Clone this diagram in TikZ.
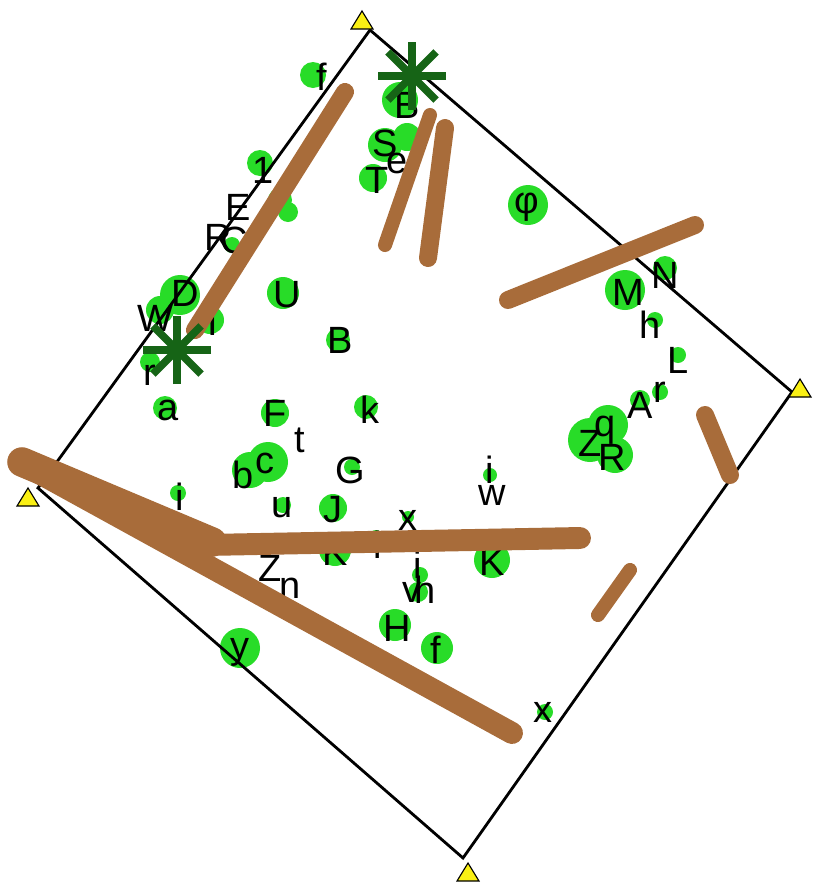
\documentclass[tikz,border=0pt]{standalone}
\usepackage{fontspec}
\setmainfont{Liberation Sans}
\usetikzlibrary{positioning}
\definecolor{leaf}{RGB}{40,220,40}
\definecolor{bark}{RGB}{168,108,58}
\definecolor{pine}{RGB}{22,100,22}
\definecolor{marker}{RGB}{250,240,20}

\begin{document}
\begin{tikzpicture}[x=0.025cm, y=-0.025cm,
    spot/.style={circle, fill=leaf, inner sep=0pt},
    tag/.style={inner sep=0pt, font=\fontsize{27}{27}\selectfont},
    log/.style={draw=bark, line cap=round},
    edge/.style={line width=2pt},
    star/.style={draw=pine, line width=5.5pt}]
    \useasboundingbox (0,0) rectangle (813,889);

    % green spots
    \foreach \x/\y/\r [count=\i] in {313/75/13, 260/163/13, 280/200/12, 288/212/10, 232/245/8,
        180/295/20, 160/310/14, 210/320/14, 150/362/10, 283/293/16, 338/340/12,
        165/408/12, 275/413/14, 366/407/12, 250/470/18, 268/462/20, 352/467/8,
        178/493/8, 283/505/8, 333/508/14, 408/517/6, 376/537/7, 335/550/16,
        420/575/8, 418/592/10, 395/625/16, 437/648/16, 240/648/20, 545/712/8,
        490/475/7, 492/560/18, 400/100/18, 385/145/17, 407/137/14, 373/178/14,
        528/205/20, 625/290/20, 665/268/12, 655/320/8, 678/355/8, 660/392/8,
        640/400/10, 590/440/22, 608/425/20, 615/455/18}
        \node (spot\i) [spot, minimum size=2*\r*0.025cm] at (\x,\y) {};

    % letters
    \foreach \x/\y/\t [count=\i] in {322/77/f, 263/170/1, 238/207/E, 218/237/R, 234/240/C,
        185/293/D, 155/318/W, 213/322/I, 150/375/r, 287/295/U, 340/340/B,
        168/410/a, 275/413/F, 300/440/t, 370/410/k, 243/475/b, 265/463/c,
        350/470/G, 180/497/i, 282/508/u, 333/510/J, 408/520/x, 378/545/i,
        335/552/K, 270/568/Z, 290/588/n, 418/565/i, 412/592/v, 425/590/h,
        397/628/H, 436/650/f, 240/652/y, 543/712/x, 490/470/i, 492/495/w,
        492/562/K, 407/105/B, 385/143/S, 397/163/e, 377/180/T, 527/207/φ,
        628/292/M, 665/275/N, 650/325/h, 678/360/L, 660/392/r, 640/405/A,
        590/443/Z, 605/430/q, 612/457/R}
        \node (tag\i) [tag] at (\x,\y) {\t};

    % square
    \coordinate (top) at (370,30);
    \coordinate (right) at (792,392);
    \coordinate (bottom) at (463,858);
    \coordinate (left) at (38,488);
    \draw [edge] (top) -- (right) -- (bottom) -- (left) -- cycle;

    % logs
    \draw [log, line width=12.8pt] (345,92) -- (195,330);
    \draw [log, line width=10pt] (430,115) -- (385,245);
    \draw [log, line width=12.8pt] (445,128) -- (428,258);
    \draw [log, line width=12.8pt] (695,225) -- (508,300);
    \draw [log, line width=12.8pt] (705,415) -- (730,475);
    \draw [log, line width=10pt] (630,570) -- (598,615);
    \draw [log, line width=21pt] (22,462) -- (212,542);
    \draw [log, line width=15.6pt] (30,468) -- (512,733);
    \draw [log, line width=15.6pt] (205,545) -- (580,538);

    % trees
    \foreach \cx/\cy in {412/76, 177/350}
        \foreach \a in {0,45,...,135}
            \draw [star] (\cx,\cy) ++(\a:34) -- ++(\a+180:68);

    % corner markers
    \foreach \x/\y in {362/20, 800/388, 468/872, 28/497}
        \draw [fill=marker, line width=0.8pt] (\x-11,\y+9) -- (\x,\y-9) -- (\x+11,\y+9) -- cycle;
\end{tikzpicture}
\end{document}
